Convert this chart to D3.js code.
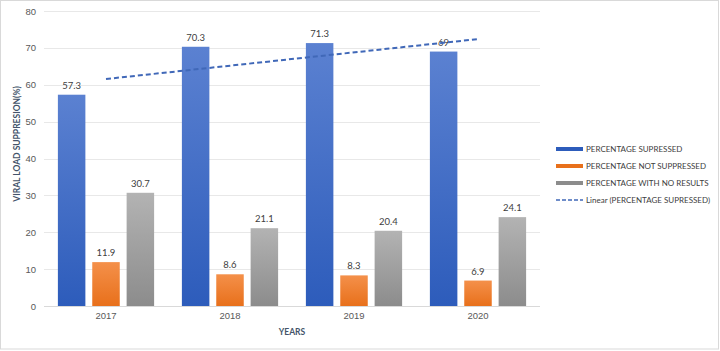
<!DOCTYPE html>
<html>
<head>
<meta charset="utf-8">
<script src="https://cdn.jsdelivr.net/npm/d3@7"></script>
<style>
  body { margin: 0; background: #ffffff; }
  svg { display: block; font-family: Lato, "Liberation Sans", sans-serif; }
</style>
</head>
<body>
<div id="chart"></div>
<script>
// chart data
const years = ["2017", "2018", "2019", "2020"];
const suppressed = [57.3, 70.3, 71.3, 69];
const notSuppressed = [11.9, 8.6, 8.3, 6.9];
const noResults = [30.7, 21.1, 20.4, 24.1];
const yTicks = [0, 10, 20, 30, 40, 50, 60, 70, 80];
const seriesNames = ["PERCENTAGE SUPRESSED", "PERCENTAGE NOT SUPPRESSED", "PERCENTAGE WITH NO RESULTS"];
const trendName = "Linear (PERCENTAGE SUPRESSED)";

const width = 720, height = 351;
const margin = {top: 11, right: 180, bottom: 45, left: 44};

const svg = d3.select("#chart").append("svg")
    .attr("width", width)
    .attr("height", height);

// outer border
svg.append("rect")
    .attr("x", 0.5).attr("y", 0.5)
    .attr("width", width - 2).attr("height", height - 2.5)
    .attr("fill", "#ffffff")
    .attr("stroke", "#d9d9d9");

// gradients for bars
const defs = svg.append("defs");
const gradColors = [["#5b81d1", "#2d5cbb"], ["#f4904a", "#e8701b"], ["#b3b3b3", "#8c8c8c"]];
gradColors.forEach((c, i) => {
    const g = defs.append("linearGradient")
        .attr("id", "grad" + i)
        .attr("x1", 0).attr("y1", 0).attr("x2", 0).attr("y2", 1);
    g.append("stop").attr("offset", "0%").attr("stop-color", c[0]);
    g.append("stop").attr("offset", "100%").attr("stop-color", c[1]);
});

const x = d3.scaleBand()
    .domain(years)
    .range([margin.left, 540])
    .paddingInner(0.224)
    .paddingOuter(0.112);

const x1 = d3.scaleBand()
    .domain([0, 1, 2])
    .range([0, x.bandwidth()])
    .paddingInner(0.2);

const y = d3.scaleLinear()
    .domain([0, 80])
    .range([306, margin.top]);

// gridlines
svg.append("g")
    .selectAll("line")
    .data(yTicks)
    .enter().append("line")
    .attr("x1", margin.left)
    .attr("x2", 540)
    .attr("y1", d => Math.round(y(d)) + 0.5)
    .attr("y2", d => Math.round(y(d)) + 0.5)
    .attr("stroke", d => d === 0 ? "#d9d9d9" : "#e8e8e8")
    .attr("stroke-width", 1);

// Y axis labels
const yAxis = svg.append("g")
    .attr("transform", "translate(" + (margin.left - 8) + ",0)")
    .call(d3.axisLeft(y).tickValues(yTicks).tickSize(0).tickPadding(0));
yAxis.select(".domain").remove();
yAxis.selectAll("text")
    .attr("fill", "#595959")
    .style("font-size", "9.5px");

// X axis labels
const xAxis = svg.append("g")
    .attr("transform", "translate(0," + 306 + ")")
    .call(d3.axisBottom(x).tickSize(0).tickPadding(6));
xAxis.select(".domain").remove();
xAxis.selectAll("text")
    .attr("fill", "#595959")
    .style("font-size", "9.5px");

// bars
const series = [suppressed, notSuppressed, noResults];
const rows = [];
years.forEach((yr, i) => {
    series.forEach((s, j) => rows.push({year: yr, s: j, v: s[i]}));
});

svg.append("g")
    .selectAll("rect")
    .data(rows)
    .enter().append("rect")
    .attr("x", d => x(d.year) + x1(d.s))
    .attr("y", d => y(d.v))
    .attr("width", x1.bandwidth())
    .attr("height", d => y(0) - y(d.v))
    .attr("fill", d => "url(#grad" + d.s + ")");

// data labels
svg.append("g")
    .selectAll("text")
    .data(rows)
    .enter().append("text")
    .attr("x", d => x(d.year) + x1(d.s) + x1.bandwidth() / 2)
    .attr("y", d => y(d.v) - 6)
    .attr("text-anchor", "middle")
    .attr("fill", "#404040")
    .style("font-size", "9.5px")
    .text(d => d.v);

// linear trendline (least squares, like the spreadsheet)
const n = suppressed.length;
const mx = (n - 1) / 2;
const my = d3.mean(suppressed);
let sxy = 0, sxx = 0;
suppressed.forEach((v, i) => { sxy += (i - mx) * (v - my); sxx += (i - mx) * (i - mx); });
const slope = sxy / sxx;
const intercept = my - slope * mx;

svg.append("line")
    .attr("x1", x(years[0]) + x.bandwidth() / 2)
    .attr("x2", x(years[n - 1]) + x.bandwidth() / 2)
    .attr("y1", y(intercept))
    .attr("y2", y(intercept + slope * (n - 1)))
    .attr("stroke", "#4068b8")
    .attr("stroke-width", 2)
    .attr("stroke-dasharray", "5,3");

// axis titles
svg.append("text")
    .attr("transform", "translate(20," + 144 + ") rotate(-90)")
    .attr("text-anchor", "middle")
    .attr("fill", "#44546a")
    .style("font-size", "8.5px")
    .style("font-weight", "bold")
    .text("VIRAL LOAD SUPPRESION(%)");

svg.append("text")
    .attr("x", (margin.left + 540) / 2)
    .attr("y", 335)
    .attr("text-anchor", "middle")
    .attr("fill", "#44546a")
    .style("font-size", "8.5px")
    .style("font-weight", "bold")
    .text("YEARS");

// legend
const legend = svg.append("g").attr("transform", "translate(556,149)");
seriesNames.forEach((name, i) => {
    const row = legend.append("g").attr("transform", "translate(0," + i * 17 + ")");
    row.append("rect")
        .attr("x", 0).attr("y", -2)
        .attr("width", 27).attr("height", 4)
        .attr("fill", gradColors[i][1]);
    row.append("text")
        .attr("x", 30).attr("y", 3)
        .attr("fill", "#404040")
        .style("font-size", "8px")
        .text(name);
});
const trendRow = legend.append("g").attr("transform", "translate(0," + 3 * 17 + ")");
trendRow.append("line")
    .attr("x1", 0).attr("x2", 27)
    .attr("stroke", "#4068b8")
    .attr("stroke-width", 1.5)
    .attr("stroke-dasharray", "4,2");
trendRow.append("text")
    .attr("x", 30).attr("y", 3)
    .attr("fill", "#404040")
    .style("font-size", "8px")
    .text(trendName);
</script>
</body>
</html>
